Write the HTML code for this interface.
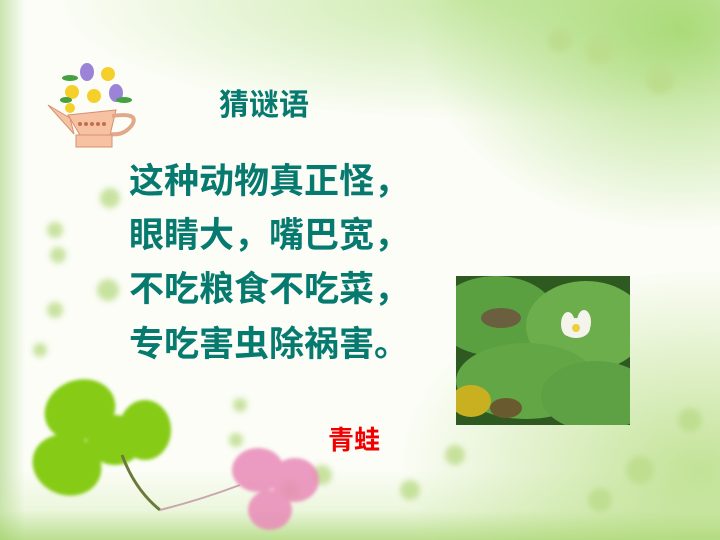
<!DOCTYPE html>
<html><head><meta charset="utf-8">
<style>
html,body{margin:0;padding:0}
body{width:720px;height:540px;overflow:hidden;position:relative;font-family:"Liberation Sans","Noto Sans CJK SC",sans-serif;
background:
radial-gradient(ellipse 260px 200px at 680px 30px, rgba(150,210,90,.75), rgba(150,210,90,0) 100%),
radial-gradient(ellipse 420px 120px at 480px 0px, rgba(170,220,120,.6), rgba(170,220,120,0) 100%),
radial-gradient(ellipse 300px 200px at 700px 470px, rgba(170,215,110,.7), rgba(170,215,110,0) 100%),
linear-gradient(to top, rgba(160,210,100,.7) 0px, rgba(200,230,160,.3) 30px, rgba(255,255,255,0) 70px),
linear-gradient(to right, rgba(170,210,130,.6) 0px, rgba(255,255,255,0) 25px),
#fbfdf6;}
.t{position:absolute;white-space:nowrap;color:#077a70;font-weight:bold}
</style></head><body>
<svg width="720" height="540" style="position:absolute;left:0;top:0">
 <defs><filter id="b"><feGaussianBlur stdDeviation="3"/></filter><filter id="b2"><feGaussianBlur stdDeviation="1.5"/></filter></defs>
 <g filter="url(#b)" fill="#bcdc8a" opacity=".8">
  <circle cx="110" cy="198" r="10"/><circle cx="55" cy="230" r="8"/><circle cx="58" cy="255" r="8"/>
  <circle cx="108" cy="290" r="11"/><circle cx="55" cy="310" r="8"/><circle cx="40" cy="350" r="7"/>
  <circle cx="240" cy="405" r="7"/><circle cx="236" cy="440" r="7"/><circle cx="322" cy="475" r="10"/>
  <circle cx="290" cy="490" r="9"/><circle cx="410" cy="490" r="10"/><circle cx="455" cy="455" r="10"/>
  <circle cx="600" cy="50" r="14"/><circle cx="660" cy="80" r="14"/><circle cx="560" cy="40" r="12"/>
  <circle cx="640" cy="470" r="14"/><circle cx="600" cy="500" r="12"/><circle cx="690" cy="420" r="12"/>
 </g>
 <g filter="url(#b2)" fill="#86cc16">
  <ellipse cx="80" cy="410" rx="36" ry="30" transform="rotate(-20 80 410)"/>
  <ellipse cx="115" cy="440" rx="28" ry="25"/>
  <ellipse cx="67" cy="465" rx="35" ry="30" transform="rotate(20 67 465)"/>
  <ellipse cx="145" cy="430" rx="26" ry="30"/>
 </g>
 <path d="M122 455 Q135 490 160 510" stroke="#6b7a3a" stroke-width="3" fill="none"/>
 <path d="M160 510 Q200 500 240 485" stroke="#c9a5b0" stroke-width="2" fill="none"/>
 <g filter="url(#b2)" fill="#e98ab8" opacity=".85">
  <ellipse cx="258" cy="470" rx="26" ry="22"/><ellipse cx="295" cy="480" rx="24" ry="22"/>
  <ellipse cx="270" cy="510" rx="22" ry="20"/>
 </g>
 <g>
  <path d="M70 118 L48 105 L74 134 Z" fill="#f6c2a2" stroke="#d59070"/>
  <path d="M68 115 L116 110 L110 135 L80 135 Z" fill="#f6c2a2" stroke="#d59070"/>
  <path d="M112 116 Q140 112 132 125 Q124 136 110 134" fill="none" stroke="#e2a88a" stroke-width="4"/>
  <rect x="76" y="135" width="36" height="12" fill="#f6c2a2" stroke="#d59070"/>
  <g fill="#c07050"><circle cx="80" cy="124" r="2"/><circle cx="86" cy="124" r="2"/><circle cx="92" cy="124" r="2"/><circle cx="98" cy="124" r="2"/><circle cx="104" cy="124" r="2"/></g>
  <g fill="#f6d02a"><circle cx="72" cy="92" r="7"/><circle cx="94" cy="96" r="7"/><circle cx="108" cy="74" r="7"/><circle cx="70" cy="108" r="5"/></g>
  <g fill="#9b84d8"><ellipse cx="87" cy="72" rx="7" ry="9"/><ellipse cx="116" cy="93" rx="7" ry="9"/></g>
  <g fill="#44a040"><ellipse cx="70" cy="78" rx="8" ry="3"/><ellipse cx="124" cy="100" rx="8" ry="3"/><ellipse cx="66" cy="100" rx="6" ry="3"/></g>
 </g>
</svg>
<div class="t" style="left:219px;top:90px;font-size:30px;line-height:32px">猜谜语</div>
<div class="t" style="left:129px;top:162px;font-size:35px;line-height:40px">这种动物真正怪，</div>
<div class="t" style="left:129px;top:216px;font-size:35px;line-height:40px">眼睛大，嘴巴宽，</div>
<div class="t" style="left:129px;top:270px;font-size:35px;line-height:40px">不吃粮食不吃菜，</div>
<div class="t" style="left:129px;top:325px;font-size:35px;line-height:40px">专吃害虫除祸害。</div>
<div class="t" style="left:328px;top:426px;font-size:26px;line-height:28px;color:#f00000">青蛙</div>
<svg width="174" height="149" style="position:absolute;left:456px;top:276px">
 <rect width="174" height="149" fill="#2e5a22"/>
 <ellipse cx="40" cy="40" rx="60" ry="40" fill="#5aa040"/>
 <ellipse cx="130" cy="50" rx="60" ry="45" fill="#6cae4c"/>
 <ellipse cx="70" cy="105" rx="70" ry="38" fill="#62a646"/>
 <ellipse cx="140" cy="120" rx="55" ry="35" fill="#5ea044"/>
 <ellipse cx="15" cy="125" rx="20" ry="16" fill="#c8b020"/>
 <ellipse cx="45" cy="42" rx="20" ry="10" fill="#6a6040"/>
 <ellipse cx="50" cy="132" rx="16" ry="10" fill="#6a5a30"/>
 <g fill="#f4f4ec"><ellipse cx="120" cy="52" rx="14" ry="10"/><ellipse cx="112" cy="48" rx="7" ry="12"/><ellipse cx="128" cy="46" rx="7" ry="12"/></g>
 <circle cx="120" cy="52" r="4" fill="#e8d040"/>
</svg>
</body></html>
